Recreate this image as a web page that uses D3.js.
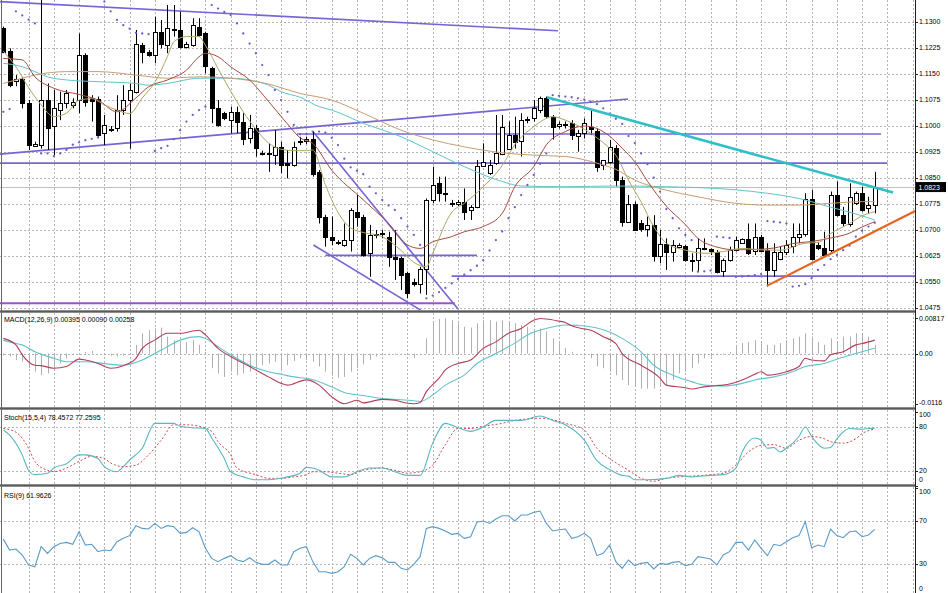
<!DOCTYPE html>
<html><head><meta charset="utf-8">
<script src="https://cdn.jsdelivr.net/npm/d3@7/dist/d3.min.js"></script>
<style>
html,body{margin:0;padding:0;background:#fff;}
svg{display:block;font-family:"Liberation Sans",Arial,sans-serif;}
</style></head>
<body><svg id="c" width="948" height="593"></svg>
<script>
// ---------- DATA ----------
const open=[1.1281,1.1216,1.1127,1.1135,1.1066,1.0941,1.0944,1.1074,1.0997,1.1045,
1.1065,1.1060,1.1074,1.1204,1.1079,1.1077,1.0978,1.0988,1.0992,1.1045,
1.1074,1.1098,1.1233,1.1213,1.1204,1.1271,1.1233,1.1278,1.1276,1.1228,
1.1233,1.1286,1.1266,1.1165,1.1050,1.1036,1.1016,1.1040,1.1012,1.0963,
1.0992,1.0921,1.0919,1.0915,1.0939,1.0891,1.0887,1.0952,1.0954,1.0963,
1.0867,1.0738,1.0680,1.0662,1.0656,1.0670,1.0752,1.0738,1.0632,1.0685,
1.0688,1.0680,1.0622,1.0617,1.0574,1.0550,1.0545,1.0588,1.0786,1.0834,
1.0807,1.0776,1.0774,1.0781,1.0757,1.0766,1.0885,1.0863,1.0891,1.0920,
1.0934,1.0973,1.0954,1.1014,1.1021,1.1045,1.1079,1.1026,1.0999,1.1000,
1.1007,1.0968,1.0978,1.0995,1.0985,1.0887,1.0896,1.0935,1.0843,1.0723,
1.0774,1.0718,1.0702,1.0713,1.0624,1.0659,1.0637,1.0651,1.0653,1.0614,
1.0612,1.0645,1.0643,1.0637,1.0579,1.0612,1.0641,1.0661,1.0672,1.0641,
1.0680,1.0641,1.0584,1.0617,1.0637,1.0651,1.0680,1.0689,1.0790,1.0656,
1.0646,1.0641,1.0800,1.0742,1.0718,1.0776,1.0805,1.0762,1.0771];
const high=[1.1286,1.1223,1.1146,1.1141,1.1074,1.0954,1.1375,1.1122,1.1103,1.1098,
1.1103,1.1079,1.1266,1.1209,1.1088,1.1084,1.1031,1.0999,1.1088,1.1117,
1.1122,1.1276,1.1239,1.1218,1.1314,1.1305,1.1348,1.1348,1.1329,1.1242,
1.1310,1.1310,1.1271,1.1170,1.1074,1.1040,1.1055,1.1055,1.1036,1.1031,
1.1002,1.0928,1.0949,1.0987,1.0954,1.0930,1.0954,1.0968,1.0968,1.0983,
1.0872,1.0743,1.0738,1.0670,1.0718,1.0762,1.0800,1.0743,1.0714,1.0699,
1.0699,1.0694,1.0699,1.0622,1.0579,1.0559,1.0593,1.0790,1.0882,1.0853,
1.0853,1.0786,1.0786,1.0819,1.0771,1.0901,1.0949,1.0901,1.1031,1.1031,
1.1012,1.1026,1.1036,1.1026,1.1074,1.1084,1.1084,1.1031,1.1012,1.1012,
1.1016,1.0988,1.1021,1.1045,1.0992,1.0901,1.0959,1.0944,1.0853,1.0800,
1.0781,1.0728,1.0738,1.0742,1.0699,1.0675,1.0670,1.0661,1.0656,1.0632,
1.0675,1.0675,1.0646,1.0641,1.0617,1.0651,1.0680,1.0675,1.0718,1.0718,
1.0685,1.0661,1.0661,1.0651,1.0670,1.0718,1.0718,1.0805,1.0814,1.0665,
1.0694,1.0810,1.0839,1.0766,1.0834,1.0810,1.0824,1.0795,1.0867];
const low=[1.1209,1.1111,1.1114,1.1050,1.0930,1.0939,1.0934,1.0930,1.0915,1.1016,
1.1050,1.1050,1.1036,1.1055,1.1012,1.0968,1.0944,1.0982,1.0983,1.1031,
1.0934,1.1093,1.1180,1.1199,1.1180,1.1223,1.1209,1.1257,1.1223,1.1223,
1.1228,1.1257,1.1151,1.1007,1.0997,1.1016,1.0978,1.0978,1.0944,1.0949,
1.0911,1.0914,1.0867,1.0887,1.0863,1.0848,1.0882,1.0944,1.0947,1.0853,
1.0718,1.0651,1.0656,1.0656,1.0651,1.0637,1.0709,1.0622,1.0564,1.0675,
1.0675,1.0593,1.0555,1.0526,1.0502,1.0536,1.0516,1.0512,1.0776,1.0781,
1.0781,1.0766,1.0768,1.0728,1.0728,1.0762,1.0882,1.0858,1.0887,1.0915,
1.0930,1.0934,1.0911,1.1007,1.1012,1.1036,1.1021,1.0960,1.0992,1.0992,
1.0959,1.0925,1.0963,1.0973,1.0867,1.0872,1.0891,1.0824,1.0709,1.0720,
1.0699,1.0694,1.0680,1.0608,1.0603,1.0584,1.0608,1.0646,1.0608,1.0579,
1.0579,1.0641,1.0627,1.0574,1.0564,1.0608,1.0637,1.0659,1.0627,1.0627,
1.0637,1.0536,1.0564,1.0612,1.0627,1.0632,1.0661,1.0680,1.0612,1.0641,
1.0622,1.0632,1.0738,1.0709,1.0709,1.0771,1.0752,1.0747,1.0747];
const close=[1.1213,1.1117,1.1134,1.1065,1.0944,1.0946,1.1074,1.0992,1.1050,1.1065,
1.1093,1.1069,1.1204,1.1069,1.1069,1.0973,1.1002,1.0991,1.1045,1.1074,
1.1103,1.1237,1.1213,1.1204,1.1271,1.1237,1.1281,1.1280,1.1228,1.1237,
1.1290,1.1262,1.1170,1.1050,1.1002,1.1021,1.1040,1.1012,1.0963,1.0992,
1.0934,1.0919,1.0921,1.0939,1.0887,1.0886,1.0939,1.0955,1.0961,1.0863,
1.0738,1.0680,1.0670,1.0664,1.0670,1.0757,1.0738,1.0627,1.0685,1.0688,
1.0690,1.0622,1.0617,1.0569,1.0516,1.0543,1.0588,1.0787,1.0829,1.0805,
1.0805,1.0778,1.0781,1.0752,1.0766,1.0885,1.0896,1.0887,1.0920,1.0997,
1.0973,1.0954,1.1016,1.1018,1.1050,1.1079,1.1026,1.0997,1.1005,1.1004,
1.0973,1.0978,1.1007,1.0988,1.0880,1.0901,1.0939,1.0843,1.0723,1.0774,
1.0699,1.0702,1.0713,1.0624,1.0659,1.0637,1.0656,1.0656,1.0612,1.0610,
1.0646,1.0647,1.0637,1.0579,1.0612,1.0641,1.0670,1.0672,1.0632,1.0680,
1.0641,1.0584,1.0637,1.0637,1.0656,1.0678,1.0689,1.0790,1.0617,1.0646,
1.0627,1.0800,1.0742,1.0718,1.0795,1.0805,1.0757,1.0771,1.0823];
const sar=[1.1040,1.1048,1.1330,1.1318,1.1306,1.1295,1.0920,1.0920,1.0912,1.0920,
1.0930,1.0945,1.0952,1.0958,1.0962,1.0966,1.1358,1.1330,1.1305,1.1290,
1.1280,1.1268,1.1266,1.1264,1.0927,1.0935,1.0942,1.0961,1.0987,1.1012,
1.1031,1.1045,1.1055,1.1348,1.1338,1.1328,1.1319,1.1295,1.1266,1.1237,
1.1209,1.1175,1.1146,1.1103,1.1074,1.1040,1.1002,1.0975,1.0975,1.0983,
1.0983,1.0980,1.0965,1.0944,1.0905,1.0880,1.0870,1.0860,1.0824,1.0805,
1.0786,1.0770,1.0757,1.0733,1.0709,1.0685,1.0656,1.0502,1.0510,1.0520,
1.0532,1.0545,1.0558,1.0570,1.0583,1.0596,1.0612,1.0640,1.0670,1.0695,
1.0733,1.0765,1.0800,1.0829,1.0858,1.0890,1.0920,1.1088,1.1086,1.1084,
1.1082,1.1079,1.1075,1.1070,1.1062,1.1050,1.1035,1.1020,1.1005,1.0970,
1.0950,1.0920,1.0889,1.0850,1.0810,1.0760,1.0733,1.0704,1.0685,1.0670,
1.0579,1.0580,1.0582,1.0680,1.0678,1.0676,1.0564,1.0565,1.0567,1.0569,
1.0572,1.0725,1.0723,1.0721,1.0718,1.0536,1.0538,1.0543,1.0560,1.0584,
1.0598,1.0615,1.0627,1.0641,1.0654,1.0680,1.0697,1.0709,1.0720];
// moving averages: [bar, price]
const maFast=[[0,1.1215],[2,1.1170],[4,1.1110],[6,1.1060],[8,1.1026],[10,1.1036],[12,1.1074],[14,1.1078],[16,1.1060],[18,1.1045],[20,1.1035],[22,1.1080],[24,1.1125],[26,1.1200],[27,1.1242],[29,1.1257],[31,1.1257],[32,1.1232],[34,1.1165],[36,1.1100],[38,1.1040],[40,1.0990],[42,1.0950],[44,1.0932],[46,1.0928],[48,1.0928],[49,1.0930],[51,1.0830],[53,1.0750],[55,1.0705],[57,1.0692],[60,1.0680],[63,1.0640],[65,1.0606],[67,1.0593],[68,1.0632],[71,1.0750],[73,1.0776],[76,1.0824],[79,1.0885],[81,1.0945],[84,1.0997],[87,1.1026],[89,1.1016],[92,1.0990],[94,1.0965],[96,1.0935],[97,1.0915],[99,1.0843],[101,1.0780],[103,1.0709],[105,1.0661],[108,1.0641],[111,1.0632],[114,1.0637],[117,1.0646],[121,1.0641],[123,1.0641],[127,1.0661],[129,1.0663],[131,1.0689],[134,1.0718],[136,1.0740],[138,1.0752]];
const maMid=[[0,1.1194],[3,1.1190],[5,1.1141],[8,1.1108],[12,1.1090],[15,1.1074],[18,1.1040],[21,1.1080],[23,1.1112],[26,1.1132],[29,1.1160],[31,1.1199],[32,1.1209],[34,1.1199],[36,1.1170],[39,1.1132],[42,1.1070],[45,1.1005],[47,1.0965],[49,1.0949],[52,1.0872],[57,1.0786],[61,1.0718],[64,1.0656],[66,1.0646],[68,1.0665],[71,1.0680],[73,1.0694],[76,1.0709],[79,1.0747],[81,1.0824],[84,1.0882],[86,1.0945],[89,1.0983],[92,1.0999],[94,1.0992],[96,1.0970],[98,1.0935],[100,1.0896],[102,1.0840],[105,1.0768],[108,1.0715],[110,1.0675],[113,1.0650],[116,1.0642],[119,1.0643],[122,1.0647],[125,1.0660],[128,1.0666],[131,1.0676],[134,1.0690],[136,1.0708],[138,1.0723]];
const maSlow=[[0,1.1122],[3,1.1137],[5,1.1146],[10,1.1156],[15,1.1156],[21,1.1146],[26,1.1137],[31,1.1141],[36,1.1137],[42,1.1120],[47,1.1093],[52,1.1074],[57,1.1036],[63,1.0987],[68,1.0959],[73,1.0939],[79,1.0922],[84,1.0915],[89,1.0911],[94,1.0892],[97,1.0874],[100,1.0843],[105,1.0814],[110,1.0795],[116,1.0776],[121,1.0771],[126,1.0771],[131,1.0776],[136,1.0781],[138,1.0781]];
const maSlowest=[[0,1.1180],[3,1.1170],[5,1.1156],[7,1.1141],[10,1.1132],[15,1.1127],[21,1.1122],[23,1.1117],[26,1.1122],[31,1.1137],[36,1.1137],[39,1.1132],[42,1.1117],[44,1.1098],[47,1.1082],[50,1.1055],[52,1.1045],[57,1.1007],[63,1.0968],[68,1.0925],[73,1.0882],[79,1.0839],[82,1.0826],[89,1.0824],[97,1.0826],[105,1.0824],[116,1.0815],[121,1.0805],[126,1.0790],[131,1.0765],[136,1.0740],[138,1.0728]];
// MACD
const macdHist=[-0.0004,-0.0007,-0.0015,-0.0019,-0.0034,-0.0042,-0.0050,-0.0046,-0.0034,-0.0023,
-0.0011,-0.0004,-0.0002,0.0004,0.0006,0.0000,-0.0004,-0.0005,-0.0007,-0.0005,
-0.0002,0.0020,0.0047,0.0054,0.0058,0.0060,0.0039,0.0031,0.0024,0.0027,
0.0031,0.0020,0.0004,-0.0034,-0.0046,-0.0054,-0.0042,-0.0050,-0.0046,-0.0042,
-0.0034,-0.0027,-0.0023,-0.0019,-0.0038,-0.0027,-0.0017,-0.0011,-0.0015,-0.0019,
-0.0030,-0.0042,-0.0051,-0.0056,-0.0054,-0.0042,-0.0034,-0.0025,-0.0015,-0.0007,
-0.0004,-0.0004,-0.0002,-0.0001,-0.0002,-0.0011,-0.0004,0.0035,0.0074,0.0080,
0.0081,0.0077,0.0070,0.0062,0.0060,0.0070,0.0077,0.0077,0.0074,0.0077,
0.0074,0.0070,0.0066,0.0062,0.0057,0.0058,0.0051,0.0035,0.0024,0.0013,
0.0004,0.0000,-0.0004,-0.0011,-0.0030,-0.0034,-0.0042,-0.0050,-0.0061,-0.0073,
-0.0077,-0.0081,-0.0081,-0.0081,-0.0077,-0.0073,-0.0061,-0.0046,-0.0042,-0.0034,
-0.0023,-0.0011,-0.0007,-0.0004,-0.0002,0.0004,0.0016,0.0024,0.0027,0.0031,
0.0024,0.0020,0.0020,0.0024,0.0031,0.0035,0.0039,0.0047,0.0039,0.0027,
0.0020,0.0035,0.0027,0.0039,0.0039,0.0047,0.0043,0.0039,0.0020];
const macdMain=[[0,0.0035],[2,0.0020],[3,-0.0003],[5,-0.0027],[6,-0.0028],[8,-0.0034],[10,-0.0030],[12,-0.0013],[13,-0.0015],[15,-0.0023],[17,-0.0034],[19,-0.0028],[21,-0.0011],[22,0.0012],[24,0.0031],[26,0.0047],[28,0.0047],[31,0.0054],[32,0.0043],[34,0.0012],[36,-0.0007],[39,-0.0030],[42,-0.0054],[44,-0.0069],[45,-0.0073],[48,-0.0061],[50,-0.0073],[52,-0.0100],[54,-0.0116],[56,-0.0108],[57,-0.0114],[60,-0.0106],[62,-0.0108],[64,-0.0115],[65,-0.0116],[66,-0.0113],[67,-0.0088],[69,-0.0057],[70,-0.0038],[72,-0.0023],[74,-0.0015],[76,0.0012],[78,0.0027],[80,0.0047],[82,0.0058],[84,0.0077],[85,0.0081],[86,0.0080],[88,0.0075],[89,0.0072],[90,0.0064],[92,0.0057],[93,0.0054],[95,0.0039],[97,0.0023],[98,0.0000],[101,-0.0027],[104,-0.0057],[105,-0.0073],[108,-0.0079],[109,-0.0082],[111,-0.0077],[113,-0.0074],[114,-0.0073],[117,-0.0061],[119,-0.0048],[120,-0.0042],[121,-0.0050],[124,-0.0042],[126,-0.0030],[127,-0.0011],[128,-0.0015],[130,-0.0017],[131,-0.0003],[133,0.0004],[135,0.0020],[136,0.0023],[138,0.0031]];
const macdSignal=[[0,0.0031],[2,0.0023],[3,0.0020],[5,0.0004],[8,-0.0011],[10,-0.0019],[13,-0.0019],[17,-0.0025],[19,-0.0027],[22,-0.0015],[24,0.0000],[26,0.0016],[28,0.0031],[31,0.0039],[32,0.0035],[34,0.0016],[36,-0.0003],[39,-0.0027],[42,-0.0042],[44,-0.0048],[47,-0.0056],[48,-0.0057],[52,-0.0077],[54,-0.0090],[57,-0.0097],[60,-0.0104],[62,-0.0106],[65,-0.0109],[66,-0.0111],[68,-0.0096],[70,-0.0073],[73,-0.0050],[75,-0.0023],[78,0.0000],[81,0.0024],[83,0.0043],[86,0.0058],[89,0.0066],[91,0.0065],[93,0.0062],[95,0.0055],[96,0.0050],[98,0.0035],[101,0.0004],[103,-0.0027],[106,-0.0050],[109,-0.0065],[111,-0.0073],[114,-0.0075],[117,-0.0069],[119,-0.0061],[122,-0.0054],[125,-0.0042],[127,-0.0030],[130,-0.0023],[132,-0.0013],[135,0.0000],[138,0.0012]];
// Stochastic
const stochMain=[[0,76],[1,69],[3,42],[4,21],[5,15],[7,17],[8,24],[10,30],[12,42],[13,42],[15,37],[16,26],[18,19],[19,26],[20,35],[22,51],[24,85],[25,85],[27,85],[28,81],[30,79],[32,78],[33,65],[35,37],[36,19],[38,12],[40,8],[42,8],[44,10],[45,12],[47,17],[48,25],[49,24],[50,21],[52,12],[54,12],[56,19],[58,24],[60,24],[62,19],[64,14],[66,14],[68,58],[70,85],[72,79],[74,74],[76,80],[78,89],[80,89],[82,89],[85,95],[87,89],[89,83],[92,62],[94,34],[96,22],[98,14],[99,13],[100,8],[102,8],[105,10],[107,14],[109,12],[112,14],[114,15],[116,24],[117,46],[119,65],[120,62],[121,51],[122,52],[123,46],[124,51],[126,67],[127,80],[128,67],[130,51],[131,52],[132,64],[134,78],[136,77],[137,78],[138,78.46]];
const stochSignal=[[0,78],[2,73],[4,51],[5,33],[7,21],[8,19],[10,24],[12,33],[14,40],[16,37],[17,31],[19,26],[21,28],[23,42],[25,62],[27,83],[29,83],[31,81],[33,74],[34,60],[36,42],[37,24],[40,15],[42,10],[44,10],[46,12],[48,15],[49,19],[51,19],[53,17],[55,15],[57,21],[60,24],[62,21],[64,17],[66,19],[68,28],[70,56],[72,78],[74,78],[76,81],[79,85],[81,89],[83,91],[85,92],[87,90],[89,85],[92,76],[94,51],[96,37],[99,21],[101,10],[103,6],[105,10],[107,12],[109,13],[112,15],[114,17],[116,28],[118,46],[120,55],[122,56],[124,51],[126,62],[128,67],[130,64],[131,60],[133,58],[135,64],[136,71],[138,77.26]];
// RSI(9), one value per bar
const rsi=[53,42.9,43.8,38.3,29.1,27.5,46,39.8,46,49,
50,48.2,59.8,47.5,48.2,41.4,42.9,42.3,50.6,53.7,
56.2,65.4,62.9,62.3,67.5,62.9,65.4,64.5,58.3,59.2,
63.5,59.8,44.5,35.2,32.2,35.2,37.7,33.7,32.2,35.8,
31.5,29.7,29.7,33.7,29.1,29.1,41.4,44.5,46,32.2,
22.9,22.9,21.4,22.9,27.5,38.9,35.2,29.1,35.2,37.7,
35.8,31.5,31.5,26,24.5,29.7,36.8,62.9,64.5,62.9,
60.5,57.4,58.3,53.7,55.2,68.5,69.7,67.5,71.5,74.6,
74.6,69.7,75.2,75.2,77.7,78.9,67.5,60.5,61.7,62.3,
53.7,55.2,58.3,53.7,37.7,39.8,47.5,32.2,26,33.7,
28.5,30.6,31.5,25.4,30.6,29.7,31.5,32.2,28.5,29.7,
36.8,35.8,34.6,29.1,38.3,41.4,50,50,42.9,52.2,
44.5,37.7,48.2,46.9,50.6,54.3,56.2,69.1,45.1,47.5,
46,62.3,56.2,54.3,59.8,60.5,55.2,56.8,61.96];
// drawn objects: [bar1, price1, bar2, price2]
const purpleLines=[[-0.52,1.1358,87.84,1.1274],[-0.52,1.0918,98.93,1.1077],[-0.52,1.0892,140,1.0892],[46.5,1.0976,139,1.0976],[51,1.0626,75,1.0626],[71,1.0566,146,1.0566],[49.04,1.0983,72,1.0471],[49.1,1.0656,66.1,1.0468]];
const magentaLines=[[-0.52,1.0488,71.5,1.0488]];
const cyanTrend=[[86.1,1.1082,140.9,1.0807]];
const orangeTrend=[[120.9,1.0538,144.4,1.0754]];
const currentPrice=1.0823;
const priceTicks=[1.1300,1.1225,1.1150,1.1075,1.1000,1.0925,1.0850,1.0775,1.0700,1.0625,1.0550,1.0475];
const macdTicks=[[0.00817,"0.00817"],[0,"0.00"],[-0.0116,"-0.0116"]];
const stochTicks=[100,80,20,0];
const rsiTicks=[100,70,30,0];
const macdGrid=[0], stochGrid=[80,20], rsiGrid=[70,30];
const titles={macd:"MACD(12,26,9) 0.00395 0.00090 0.00258",stoch:"Stoch(15,5,4) 78.4572 77.2595",rsi:"RSI(9) 61.9626"};

// ---------- LAYOUT ----------
const svg=d3.select('#c');
const PR=915.5;
const P={main:[0,310],macd:[313,407],stoch:[410,484],rsi:[487,593]};
const x=d3.scaleLinear().domain([0,138]).range([3.3,3.3+6.315*138]);
const yMain=d3.scaleLinear().domain([1.0475,1.1300]).range([307.7,21.7]);
const yMacd=d3.scaleLinear().domain([-0.0116,0.00817]).range([403.7,318.2]);
const yStoch=d3.scaleLinear().domain([20,80]).range([471,427]);
const yRsi=d3.scaleLinear().domain([30,70]).range([564,520.7]);

svg.append('rect').attr('width',948).attr('height',593).attr('fill','#fff');
const defs=svg.append('defs');
Object.entries(P).forEach(([k,[t,b]])=>{
  defs.append('clipPath').attr('id','clip-'+k).append('rect').attr('x',0).attr('y',t).attr('width',PR).attr('height',b-t);
});
const layer=k=>svg.append('g').attr('clip-path','url(#clip-'+k+')');

// grid
const gridColor='#b4b4b4';
const vBars=d3.range(4,146,4).filter(b=>x(b)<PR-1);
function grid(k,yScale,vals){
  const g=layer(k);
  const [t,b]=P[k];
  g.selectAll('line.v').data(vBars).join('line').attr('x1',d=>Math.round(x(d))+0.5).attr('x2',d=>Math.round(x(d))+0.5)
   .attr('y1',t).attr('y2',b).attr('stroke',gridColor).attr('stroke-dasharray','2,2');
  g.selectAll('line.h').data(vals).join('line').attr('x1',0).attr('x2',PR)
   .attr('y1',d=>Math.round(yScale(d))+0.5).attr('y2',d=>Math.round(yScale(d))+0.5)
   .attr('stroke',gridColor).attr('stroke-dasharray','2,2');
}
grid('main',yMain,priceTicks);
grid('macd',yMacd,macdGrid);
grid('stoch',yStoch,stochGrid);
grid('rsi',yRsi,rsiGrid);

// ---------- MAIN PANEL ----------
const gm=layer('main');
gm.append('line').attr('x1',0).attr('x2',PR).attr('y1',Math.round(yMain(currentPrice))+0.5).attr('y2',Math.round(yMain(currentPrice))+0.5)
  .attr('stroke','#c0c0c0');

function seg(g,arr,color,w){
  g.selectAll(null).data(arr).join('line')
   .attr('x1',d=>x(d[0])).attr('y1',d=>yMain(d[1])).attr('x2',d=>x(d[2])).attr('y2',d=>yMain(d[3]))
   .attr('stroke',color).attr('stroke-width',w);
}
seg(gm,magentaLines,'#9a52cf',2);
seg(gm,purpleLines,'#7565d8',1.6);

// candles
const cg=gm.append('g');
close.forEach((c,i)=>{
  const cx=Math.round(x(i))+0.5;
  cg.append('line').attr('x1',cx).attr('x2',cx).attr('y1',yMain(high[i])).attr('y2',yMain(low[i])).attr('stroke','#000');
  const yo=yMain(open[i]), yc=yMain(close[i]);
  const top=Math.round(Math.min(yo,yc))+0.5, h=Math.max(1,Math.round(Math.abs(yo-yc)));
  cg.append('rect').attr('x',cx-2).attr('y',top).attr('width',4).attr('height',h)
    .attr('fill',c>=open[i]?'#fff':'#000').attr('stroke','#000');
});

// moving averages
const maLine=d3.line().x(d=>x(d[0])).y(d=>yMain(d[1])).curve(d3.curveMonotoneX);
[[maSlowest,'#5cc6c8'],[maSlow,'#c99c72'],[maMid,'#a84a40'],[maFast,'#aea466']].forEach(([d,c])=>{
  gm.append('path').attr('d',maLine(d)).attr('fill','none').attr('stroke',c).attr('stroke-width',1);
});

// parabolic SAR
gm.selectAll('circle.sar').data(sar).join('circle').attr('cx',(d,i)=>x(i)).attr('cy',d=>yMain(d)).attr('r',1.15).attr('fill','#6a5ccf');

seg(gm,cyanTrend,'#2fbfc6',2.6);
seg(gm,orangeTrend,'#e8641c',2.2);

// ---------- MACD ----------
const gd=layer('macd');
gd.selectAll('line.hist').data(macdHist).join('line')
  .attr('x1',(d,i)=>Math.round(x(i))+0.5).attr('x2',(d,i)=>Math.round(x(i))+0.5)
  .attr('y1',yMacd(0)).attr('y2',d=>yMacd(d)).attr('stroke','#b0b0b0').attr('stroke-width',1);
const lm=d3.line().x(d=>x(d[0])).y(d=>yMacd(d[1])).curve(d3.curveMonotoneX);
gd.append('path').attr('d',lm(macdSignal)).attr('fill','none').attr('stroke','#62c2cc').attr('stroke-width',1.1);
gd.append('path').attr('d',lm(macdMain)).attr('fill','none').attr('stroke','#b0405a').attr('stroke-width',1.1);

// ---------- STOCH ----------
const gs=layer('stoch');
const ls=d3.line().x(d=>x(d[0])).y(d=>yStoch(d[1])).curve(d3.curveMonotoneX);
gs.append('path').attr('d',ls(stochSignal)).attr('fill','none').attr('stroke','#d24848').attr('stroke-width',1).attr('stroke-dasharray','2,2');
gs.append('path').attr('d',ls(stochMain)).attr('fill','none').attr('stroke','#5cb6c2').attr('stroke-width',1.1);

// ---------- RSI ----------
const gr=layer('rsi');
const lr=d3.line().x((d,i)=>x(i)).y(d=>yRsi(d));
gr.append('path').attr('d',lr(rsi)).attr('fill','none').attr('stroke','#5a9cc8').attr('stroke-width',1.1);

// ---------- FRAME ----------
[[310,313],[407,410],[484,487]].forEach(([a,b])=>{
  svg.append('rect').attr('x',0).attr('y',a).attr('width',PR).attr('height',b-a).attr('fill','#8c8c8c');
  svg.append('line').attr('x1',0).attr('x2',PR).attr('y1',a+1.5).attr('y2',a+1.5).attr('stroke','#5a5a5a');
});
svg.append('line').attr('x1',1.5).attr('x2',1.5).attr('y1',0).attr('y2',593).attr('stroke','#666');
svg.append('line').attr('x1',PR).attr('x2',PR).attr('y1',0).attr('y2',593).attr('stroke','#222');

// ---------- AXES ----------
const ax=svg.append('g').attr('font-size',7).attr('fill','#000');
function lab(y,txt,t,b){
  const yy=Math.max(t+5,Math.min(b-4,y));
  ax.append('line').attr('x1',PR).attr('x2',PR+2.5).attr('y1',Math.round(y)+0.5).attr('y2',Math.round(y)+0.5).attr('stroke','#222');
  ax.append('text').attr('x',919).attr('y',yy).attr('dy','0.35em').text(txt);
}
const fmt=d3.format('.4f');
priceTicks.forEach(p=>lab(yMain(p),fmt(p),P.main[0],P.main[1]+2));
macdTicks.forEach(([v,t])=>lab(yMacd(v),t,P.macd[0],P.macd[1]));
stochTicks.forEach(v=>lab(yStoch(v),String(v),P.stoch[0],P.stoch[1]));
rsiTicks.forEach(v=>lab(yRsi(v),String(v),P.rsi[0],P.rsi[1]));
const cy=yMain(currentPrice);
ax.append('rect').attr('x',916).attr('y',cy-5).attr('width',30).attr('height',10).attr('fill','#000');
ax.append('text').attr('x',918.5).attr('y',cy).attr('dy','0.35em').attr('fill','#fff').text(fmt(currentPrice));

// titles
svg.append('text').attr('x',4).attr('y',321.5).attr('font-size',7).text(titles.macd);
svg.append('text').attr('x',4).attr('y',420).attr('font-size',7).text(titles.stoch);
svg.append('text').attr('x',4).attr('y',498).attr('font-size',7).text(titles.rsi);
</script>
</body></html>
